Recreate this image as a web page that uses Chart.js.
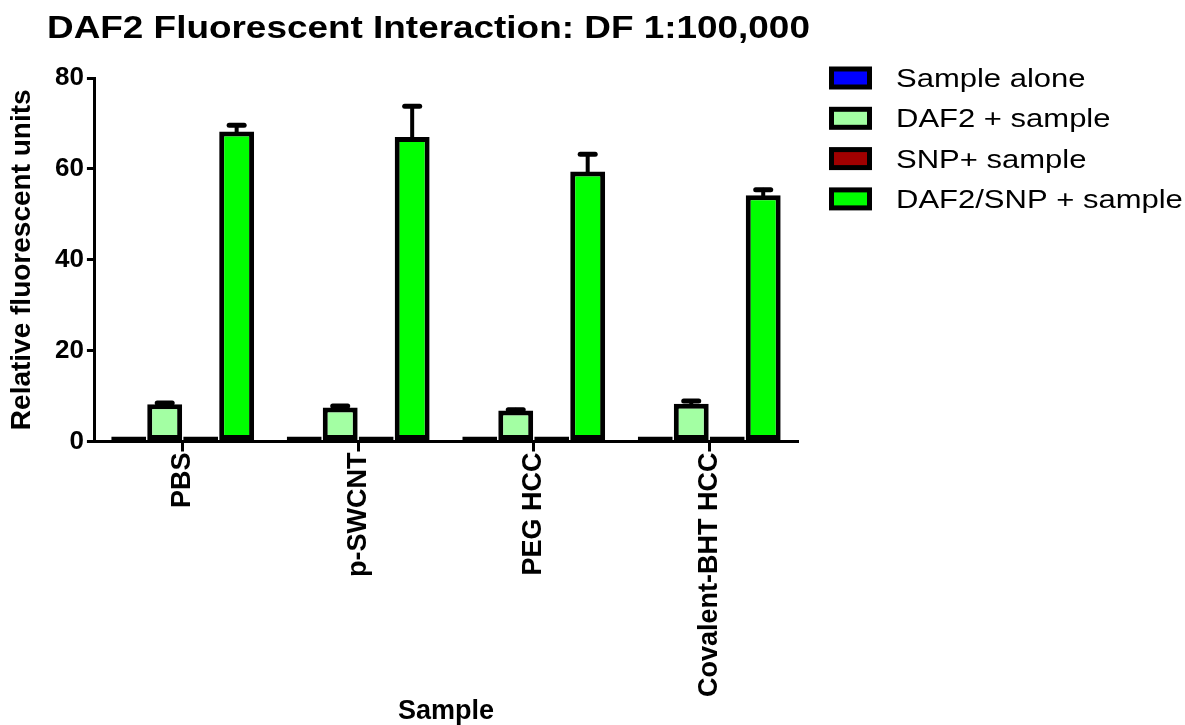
<!DOCTYPE html>
<html>
<head>
<meta charset="utf-8">
<script src="https://cdn.jsdelivr.net/npm/chart.js@4"></script>
<style>
  html, body { margin: 0; padding: 0; background: #fff; }
  #wrap { width: 1185px; height: 725px; }
</style>
</head>
<body>
<div id="wrap"><canvas id="miGrafico" width="1185" height="725"></canvas></div>
<script>
const labels = ['PBS', 'p-SWCNT', 'PEG HCC', 'Covalent-BHT HCC'];

const sampleAlone = [0.5, 0.3, 0.3, 0.8];
const daf2Sample = [8.2, 7.5, 6.8, 8.3];
const snpSample = [0.2, 0.2, 0.2, 0.6];
const daf2SnpSample = [68.2, 67.0, 59.4, 54.2];

const sampleAloneErr = [0, 0, 0, 0];
const daf2SampleErr = [0.3, 0.3, 0.2, 0.6];
const snpSampleErr = [0, 0, 0, 0];
const daf2SnpSampleErr = [1.4, 6.8, 3.8, 1.2];

const yTicks = [0, 20, 40, 60, 80];

const font = 'Liberation Sans, Arial, sans-serif';

// upward error bars with caps
const errorBars = {
  id: 'errorBars',
  afterDatasetsDraw(chart) {
    const c = chart.ctx;
    const y = chart.scales.y;
    c.save();
    c.strokeStyle = '#000';
    c.lineCap = 'round';
    chart.data.datasets.forEach((ds, i) => {
      const meta = chart.getDatasetMeta(i);
      meta.data.forEach((bar, j) => {
        const e = ds.err[j];
        if (!e) return;
        const top = y.getPixelForValue(ds.data[j] + e);
        c.lineWidth = 4;
        c.beginPath();
        c.moveTo(bar.x, bar.y);
        c.lineTo(bar.x, top);
        c.stroke();
        c.lineWidth = 5;
        c.beginPath();
        c.moveTo(bar.x - 7.5, top);
        c.lineTo(bar.x + 7.5, top);
        c.stroke();
      });
    });
    c.restore();
  }
};

// title and legend drawn by hand (wide type like the original)
const titleAndLegend = {
  id: 'titleAndLegend',
  afterDraw(chart) {
    const c = chart.ctx;
    const area = chart.chartArea;
    c.save();
    c.fillStyle = '#000';
    c.textAlign = 'left';
    c.textBaseline = 'alphabetic';

    c.save();
    c.translate(47, 38);
    c.scale(1.21, 1);
    c.font = 'bold 30.5px ' + font;
    c.fillText('DAF2 Fluorescent Interaction: DF 1:100,000', 0, 0);
    c.restore();

    const bx = area.right + 32;
    chart.data.datasets.forEach((ds, i) => {
      const cy = area.top + i * 40.3;
      c.fillStyle = '#000';
      c.fillRect(bx, cy - 11.5, 43, 23);
      c.fillStyle = ds.backgroundColor;
      c.fillRect(bx + 5, cy - 6.5, 33, 13);
      c.save();
      c.translate(bx + 67, cy + 9);
      c.scale(1.24, 1);
      c.fillStyle = '#000';
      c.font = '25px ' + font;
      c.fillText(ds.label, 0, 0);
      c.restore();
    });
    c.restore();
  }
};

const mkSet = (label, data, err, color) => ({
  label,
  data,
  err,
  backgroundColor: color,
  borderColor: '#000',
  borderWidth: 5,
  borderSkipped: false,
  minBarLength: 5,
  categoryPercentage: 0.82,
  barPercentage: 0.97,
});

const data = {
  labels,
  datasets: [
    mkSet('Sample alone', sampleAlone, sampleAloneErr, '#0000ff'),
    mkSet('DAF2 + sample', daf2Sample, daf2SampleErr, '#a3ffa3'),
    mkSet('SNP+ sample', snpSample, snpSampleErr, '#a00000'),
    mkSet('DAF2/SNP + sample', daf2SnpSample, daf2SnpSampleErr, '#00ff00'),
  ],
};

const options = {
  responsive: false,
  animation: false,
  layout: {
    padding: { top: 78, left: 4, right: 388, bottom: 0 },
  },
  plugins: {
    title: { display: false },
    tooltip: { enabled: false },
    legend: { display: false },
  },
  scales: {
    x: {
      grid: {
        display: true,
        drawOnChartArea: false,
        drawTicks: true,
        offset: false,
        tickLength: 10,
        color: '#000',
        lineWidth: 3,
      },
      border: { display: true, color: '#000', width: 3 },
      ticks: {
        color: '#000',
        font: { family: font, size: 27, weight: 'bold' },
        minRotation: 90,
        maxRotation: 90,
        padding: 1,
      },
      title: {
        display: true,
        text: 'Sample',
        color: '#000',
        font: { family: font, size: 27, weight: 'bold', lineHeight: 1 },
        padding: { top: 0, bottom: 0 },
      },
    },
    y: {
      min: 0,
      max: 80,
      afterBuildTicks(scale) {
        scale.ticks = yTicks.map(v => ({ value: v }));
      },
      grid: {
        display: true,
        drawOnChartArea: false,
        drawTicks: true,
        tickLength: 8,
        color: '#000',
        lineWidth: 3,
      },
      border: { display: true, color: '#000', width: 3 },
      ticks: {
        color: '#000',
        font: { family: font, size: 26, weight: 'bold' },
        padding: 3,
      },
      title: {
        display: true,
        text: 'Relative fluorescent units',
        color: '#000',
        font: { family: font, size: 28, weight: 'bold', lineHeight: 1 },
        padding: { top: 4, bottom: 16 },
      },
    },
  },
};

const ctx = document.getElementById('miGrafico');
const myChart = new Chart(ctx, {
  type: 'bar',
  data,
  options,
  plugins: [errorBars, titleAndLegend],
});
</script>
</body>
</html>
